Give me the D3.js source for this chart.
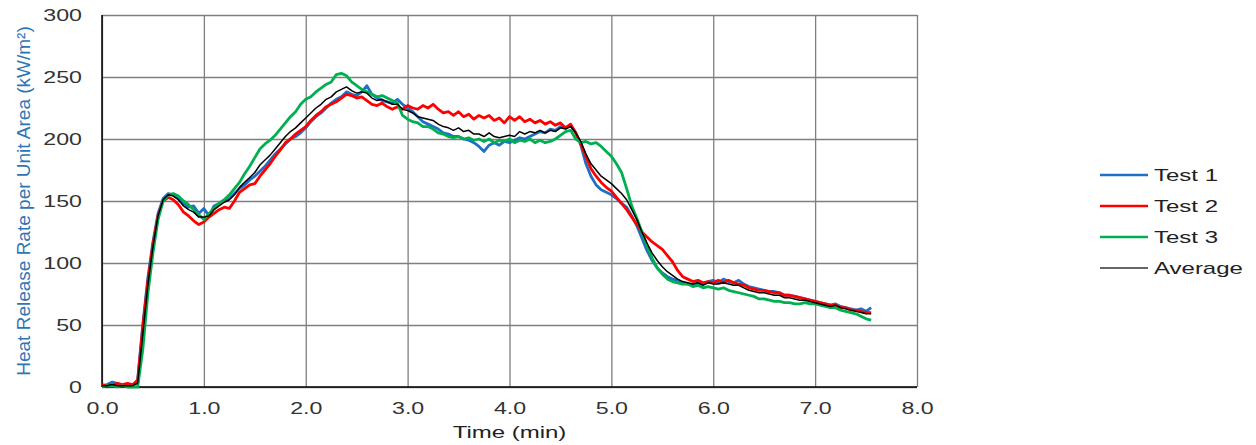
<!DOCTYPE html>
<html>
<head>
<meta charset="utf-8">
<script src="https://cdn.jsdelivr.net/npm/d3@7"></script>
<style>
  body { margin: 0; background: #fff; }
  svg { font-family: "Liberation Sans", Arial, sans-serif; }
  .grid line { stroke: #7f7f7f; stroke-width: 1.3; }
  .grid path { display: none; }
  .axis text { fill: #333; font-size: 16px; }
  .axis line, .axis path { display: none; }
</style>
</head>
<body>
<div id="chart"></div>
<script>

// sample times (min)
var time = [
  0.00,0.05,0.10,0.15,0.20,0.25,0.30,0.35,0.40,0.45,0.50,0.55,0.60,0.65,0.70,0.75,0.80,0.85,0.90,0.95,
  1.00,1.05,1.10,1.15,1.20,1.25,1.30,1.35,1.40,1.45,1.50,1.55,1.60,1.65,1.70,1.75,1.80,1.85,1.90,1.95,
  2.00,2.05,2.10,2.15,2.20,2.25,2.30,2.35,2.40,2.45,2.50,2.55,2.60,2.65,2.70,2.75,2.80,2.85,2.90,2.95,
  3.00,3.05,3.10,3.15,3.20,3.25,3.30,3.35,3.40,3.45,3.50,3.55,3.60,3.65,3.70,3.75,3.80,3.85,3.90,3.95,
  4.00,4.05,4.10,4.15,4.20,4.25,4.30,4.35,4.40,4.45,4.50,4.55,4.60,4.65,4.70,4.75,4.80,4.85,4.90,4.95,
  5.00,5.05,5.10,5.15,5.20,5.25,5.30,5.35,5.40,5.45,5.50,5.55,5.60,5.65,5.70,5.75,5.80,5.85,5.90,5.95,
  6.00,6.05,6.10,6.15,6.20,6.25,6.30,6.35,6.40,6.45,6.50,6.55,6.60,6.65,6.70,6.75,6.80,6.85,6.90,6.95,
  7.00,7.05,7.10,7.15,7.20,7.25,7.30,7.35,7.40,7.45,7.50,7.55
];

var test1 = [
  1,2,4,3,1,2,1,6,50,88,117,140,152,156,155,152,148,145,146,140,
  144,138,146,148,151,152,156,160,163,167,170,174,178,183,188,192,196,200,202,205,
  209,214,218,221,225,229,232,234,238,236,235,238,243,236,233,231,230,229,232,228,
  225,222,218,214,212,210,208,205,204,202,202,200,199,197,194,190,195,197,195,198,
  197,199,201,200,202,204,206,205,208,207,210,209,211,205,195,180,170,163,159,157,
  155,152,148,145,138,130,120,110,102,96,92,89,87,86,84,83,82,84,83,85,
  86,84,87,85,84,86,83,81,80,79,78,77,77,76,74,74,73,72,71,70,
  69,68,67,66,67,65,64,63,62,63,61,64
];

var test2 = [
  2,1,1,3,2,3,2,5,48,85,115,138,150,153,151,147,141,138,134,131,
  133,137,140,143,145,144,150,157,160,163,164,170,175,180,186,191,197,200,204,207,
  210,215,219,222,226,228,230,233,236,235,233,234,231,228,227,229,226,224,226,224,
  227,225,224,227,225,228,224,221,222,219,222,218,220,216,219,217,219,215,217,213,
  218,215,218,214,216,213,215,212,214,211,213,209,212,205,196,186,176,170,165,161,
  158,153,148,143,137,131,125,121,117,114,111,106,101,94,89,87,85,86,84,85,
  84,86,84,86,84,83,82,80,79,78,78,77,76,76,74,74,73,72,71,70,
  69,68,67,66,66,64,64,62,62,61,60,60
];

var test3 = [
  0,1,1,0,1,0,0,0,30,75,108,135,150,155,156,154,150,147,143,139,
  135,140,144,148,151,155,160,165,172,178,185,192,196,199,203,208,213,218,222,228,
  232,234,238,241,244,246,252,253,251,246,243,240,238,236,234,235,233,231,229,219,
  216,214,213,210,210,208,205,204,202,201,202,200,201,199,200,198,200,197,199,198,
  200,197,199,198,200,197,199,197,198,200,203,206,207,200,197,198,196,197,194,190,
  186,180,173,160,146,136,125,114,104,96,91,87,85,84,83,83,81,82,80,81,
  80,79,80,78,77,76,75,74,73,71,71,70,69,69,68,68,67,67,68,67,
  67,66,65,64,64,62,61,60,59,57,55,54
];

var average = [
  1,1,2,1,1,1,1,3,42,82,113,138,151,155,154,151,146,143,141,137,
  137,138,143,146,149,151,155,161,165,169,173,179,183,187,192,197,202,206,209,213,
  217,221,225,228,232,234,238,240,242,239,237,238,237,233,231,232,230,228,228,224,
  223,221,218,217,216,215,212,210,209,207,209,206,207,204,204,202,205,202,201,202,
  203,202,206,204,206,205,207,205,207,206,209,208,210,205,198,188,180,175,170,167,
  164,160,156,151,143,135,125,116,108,102,97,93,90,87,85,84,83,84,82,84,
  83,83,84,83,82,82,80,78,77,76,76,75,74,74,72,72,71,70,70,69,
  68,67,66,65,66,64,63,62,61,60,59,59
];

var seriesNames = ["Test 1", "Test 2", "Test 3", "Average"];
var xTicks = [0, 1, 2, 3, 4, 5, 6, 7, 8];
var yTicks = [0, 50, 100, 150, 200, 250, 300];

var colors = {
  "Test 1": "#1f6fc5",
  "Test 2": "#ff0000",
  "Test 3": "#00b050",
  "Average": "#000000"
};

// the source picture is stretched sideways, text too
var stretch = 1.45;

var W = 1256, H = 445;
var margin = { top: 15, right: 339, bottom: 58, left: 102 },
  width = W - margin.left - margin.right,
  height = H - margin.top - margin.bottom;

var svg = d3.select("#chart").append("svg")
  .attr("width", W)
  .attr("height", H);

var g = svg.append("g")
  .attr("transform", "translate(" + margin.left + "," + margin.top + ")");

var xScale = d3.scaleLinear().domain([0, 8]).range([0, width]),
  yScale = d3.scaleLinear().domain([0, 300]).range([height, 0]);

// gridlines
g.append("g")
  .attr("class", "grid")
  .call(d3.axisLeft(yScale).tickValues(yTicks).tickSize(-width).tickFormat(""));
g.append("g")
  .attr("class", "grid")
  .attr("transform", "translate(0," + height + ")")
  .call(d3.axisBottom(xScale).tickValues(xTicks).tickSize(-height).tickFormat(""));

// axis lines
g.append("line").attr("x1", 0).attr("x2", 0).attr("y1", 0).attr("y2", height)
  .attr("stroke", "#000").attr("stroke-width", 1.5);
g.append("line").attr("x1", 0).attr("x2", width).attr("y1", height).attr("y2", height)
  .attr("stroke", "#000").attr("stroke-width", 1.5);

// tick labels
g.append("g")
  .attr("class", "axis")
  .call(d3.axisLeft(yScale).tickValues(yTicks).tickSize(0).tickPadding(20).tickFormat(d3.format("d")))
  .selectAll("text")
  .attr("x", -20 / stretch)
  .attr("transform", "scale(" + stretch + ",1)");
g.append("g")
  .attr("class", "axis")
  .attr("transform", "translate(0," + height + ")")
  .call(d3.axisBottom(xScale).tickValues(xTicks).tickSize(0).tickPadding(16).tickFormat(d3.format(".1f")))
  .selectAll("text")
  .attr("transform", "scale(" + stretch + ",1)");

// series
var seriesData = [test1, test2, test3, average];

var line = d3.line()
  .x(function (d) { return xScale(d[0]); })
  .y(function (d) { return yScale(d[1]); });

seriesNames.forEach(function (name, i) {
  var pts = time.map(function (t, j) { return [t, seriesData[i][j]]; });
  g.append("path")
    .datum(pts)
    .attr("fill", "none")
    .attr("stroke", colors[name])
    .attr("stroke-width", name == "Average" ? 1.5 : 2.8)
    .attr("stroke-linejoin", "round")
    .attr("d", line);
});

// axis titles
svg.append("text")
  .attr("transform", "translate(30," + (margin.top + height / 2) + ") rotate(-90)")
  .attr("text-anchor", "middle")
  .attr("fill", "#2e75b6")
  .style("font-size", "19px")
  .text("Heat Release Rate per Unit Area (kW/m²)");

var xTitleX = margin.left + width / 2;
svg.append("text")
  .attr("x", xTitleX / 1.5)
  .attr("y", 438)
  .attr("transform", "scale(1.5,1)")
  .attr("text-anchor", "middle")
  .attr("fill", "#222")
  .style("font-size", "16px")
  .text("Time (min)");

// legend
var legend = svg.append("g").attr("transform", "translate(1100,175)");
seriesNames.forEach(function (name, i) {
  var row = legend.append("g").attr("transform", "translate(0," + (i * 31) + ")");
  row.append("line")
    .attr("x1", 0).attr("x2", 48).attr("y1", 0).attr("y2", 0)
    .attr("stroke", name == "Average" ? "#333" : colors[name])
    .attr("stroke-width", name == "Average" ? 1.5 : 2.5);
  row.append("text")
    .attr("x", 54 / 1.5).attr("y", 6)
    .attr("transform", "scale(1.5,1)")
    .attr("fill", "#222")
    .style("font-size", "16px")
    .text(name);
});

</script>
</body>
</html>
